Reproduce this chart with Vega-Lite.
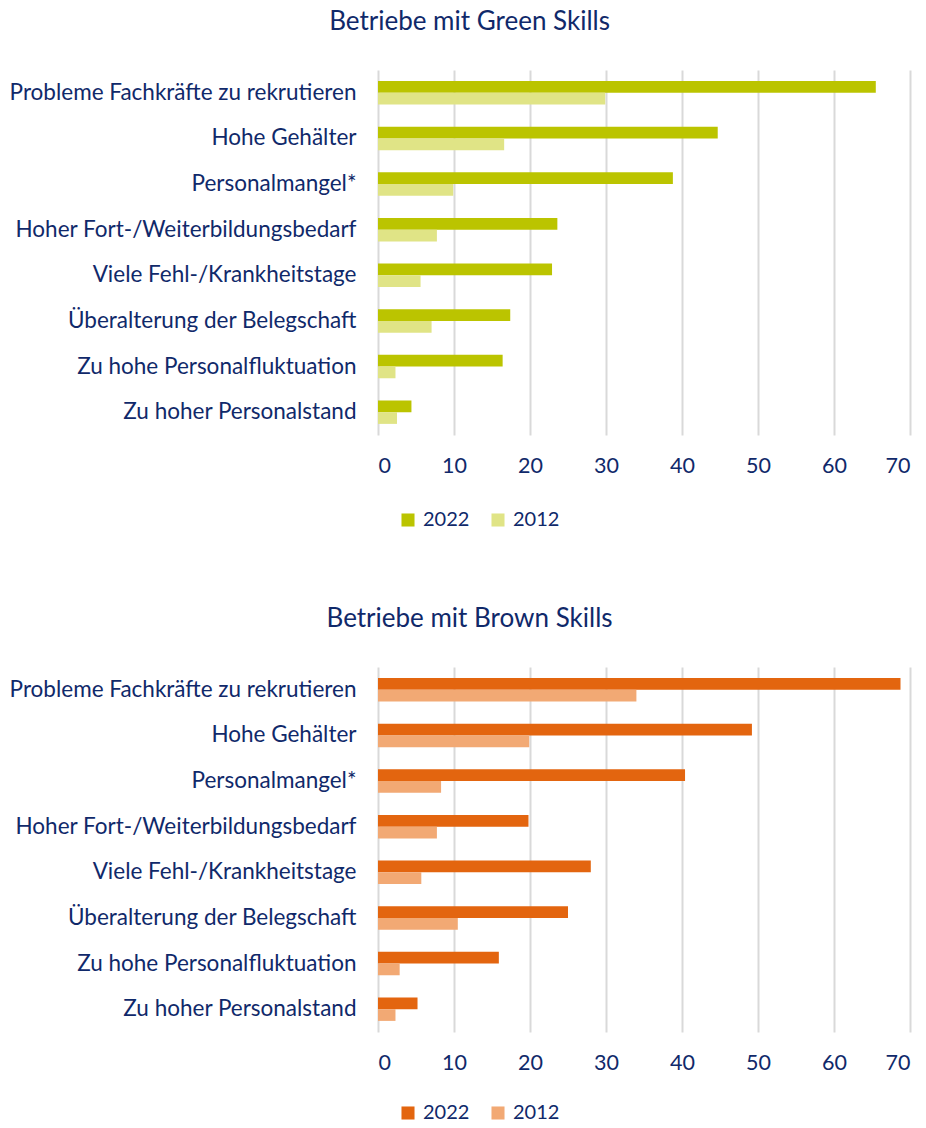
{
  "$schema": "https://vega.github.io/schema/vega-lite/v6.json",
  "background": "white",
  "padding": {"left": 9, "top": 9, "right": 10, "bottom": 0},
  "config": {
    "font": "Lato",
    "view": {"stroke": null},
    "axis": {"labelFont": "Lato", "labelFontSize": 21.5, "labelColor": "#10296a", "title": null},
    "legend": {"labelFont": "Lato", "labelFontSize": 20, "labelColor": "#10296a"},
    "title": {"font": "Lato", "fontSize": 26, "fontWeight": "normal", "color": "#10296a"}
  },
  "spacing": 76,
  "resolve": {"scale": {"color": "independent"}, "legend": {"color": "independent"}},
  "vconcat": [
    {
      "title": {"text": "Betriebe mit Green Skills", "anchor": "middle", "frame": "bounds", "offset": 35, "dx": 10},
      "width": 532,
      "height": 365,
      "data": {"values": [
        {"kategorie": "Probleme Fachkräfte zu rekrutieren", "jahr": "2022", "wert": 65.5},
        {"kategorie": "Probleme Fachkräfte zu rekrutieren", "jahr": "2012", "wert": 29.9},
        {"kategorie": "Hohe Gehälter", "jahr": "2022", "wert": 44.7},
        {"kategorie": "Hohe Gehälter", "jahr": "2012", "wert": 16.6},
        {"kategorie": "Personalmangel*", "jahr": "2022", "wert": 38.8},
        {"kategorie": "Personalmangel*", "jahr": "2012", "wert": 9.9},
        {"kategorie": "Hoher Fort-/Weiterbildungsbedarf", "jahr": "2022", "wert": 23.6},
        {"kategorie": "Hoher Fort-/Weiterbildungsbedarf", "jahr": "2012", "wert": 7.75},
        {"kategorie": "Viele Fehl-/Krankheitstage", "jahr": "2022", "wert": 22.9},
        {"kategorie": "Viele Fehl-/Krankheitstage", "jahr": "2012", "wert": 5.6},
        {"kategorie": "Überalterung der Belegschaft", "jahr": "2022", "wert": 17.4},
        {"kategorie": "Überalterung der Belegschaft", "jahr": "2012", "wert": 7.05},
        {"kategorie": "Zu hohe Personalfluktuation", "jahr": "2022", "wert": 16.4},
        {"kategorie": "Zu hohe Personalfluktuation", "jahr": "2012", "wert": 2.3},
        {"kategorie": "Zu hoher Personalstand", "jahr": "2022", "wert": 4.4},
        {"kategorie": "Zu hoher Personalstand", "jahr": "2012", "wert": 2.5}
      ]},
      "mark": {"type": "bar"},
      "encoding": {
        "y": {"field": "kategorie", "type": "nominal", "sort": null,
              "scale": {"paddingInner": 0.487, "paddingOuter": 0.2435},
              "axis": {"domain": false, "ticks": false, "labelPadding": 22, "labelLimit": 420, "labelFontSize": 22.5}},
        "yOffset": {"field": "jahr", "type": "nominal", "sort": ["2022", "2012"]},
        "x": {"field": "wert", "type": "quantitative",
              "scale": {"domain": [0, 70], "nice": false},
              "axis": {"values": [0, 10, 20, 30, 40, 50, 60, 70], "domain": false, "ticks": false, "grid": true, "gridColor": "#d9d9d9", "gridWidth": 2, "labelPadding": 20}},
        "color": {"field": "jahr", "type": "nominal",
                  "scale": {"domain": ["2022", "2012"], "range": ["#bbc400", "#e0e486"]},
                  "legend": {"title": null, "orient": "none", "legendX": 20, "legendY": 440, "direction": "horizontal", "symbolType": "square", "symbolSize": 170, "symbolStrokeWidth": 0, "labelOffset": 5, "columnPadding": 18}}
      }
    },
    {
      "title": {"text": "Betriebe mit Brown Skills", "anchor": "middle", "frame": "bounds", "offset": 35, "dx": 10},
      "width": 532,
      "height": 365,
      "data": {"values": [
        {"kategorie": "Probleme Fachkräfte zu rekrutieren", "jahr": "2022", "wert": 68.75},
        {"kategorie": "Probleme Fachkräfte zu rekrutieren", "jahr": "2012", "wert": 34.0},
        {"kategorie": "Hohe Gehälter", "jahr": "2022", "wert": 49.2},
        {"kategorie": "Hohe Gehälter", "jahr": "2012", "wert": 19.9},
        {"kategorie": "Personalmangel*", "jahr": "2022", "wert": 40.4},
        {"kategorie": "Personalmangel*", "jahr": "2012", "wert": 8.3},
        {"kategorie": "Hoher Fort-/Weiterbildungsbedarf", "jahr": "2022", "wert": 19.8},
        {"kategorie": "Hoher Fort-/Weiterbildungsbedarf", "jahr": "2012", "wert": 7.75},
        {"kategorie": "Viele Fehl-/Krankheitstage", "jahr": "2022", "wert": 28.0},
        {"kategorie": "Viele Fehl-/Krankheitstage", "jahr": "2012", "wert": 5.7},
        {"kategorie": "Überalterung der Belegschaft", "jahr": "2022", "wert": 25.0},
        {"kategorie": "Überalterung der Belegschaft", "jahr": "2012", "wert": 10.5},
        {"kategorie": "Zu hohe Personalfluktuation", "jahr": "2022", "wert": 15.9},
        {"kategorie": "Zu hohe Personalfluktuation", "jahr": "2012", "wert": 2.85},
        {"kategorie": "Zu hoher Personalstand", "jahr": "2022", "wert": 5.2},
        {"kategorie": "Zu hoher Personalstand", "jahr": "2012", "wert": 2.3}
      ]},
      "mark": {"type": "bar"},
      "encoding": {
        "y": {"field": "kategorie", "type": "nominal", "sort": null,
              "scale": {"paddingInner": 0.487, "paddingOuter": 0.2435},
              "axis": {"domain": false, "ticks": false, "labelPadding": 22, "labelLimit": 420, "labelFontSize": 22.5}},
        "yOffset": {"field": "jahr", "type": "nominal", "sort": ["2022", "2012"]},
        "x": {"field": "wert", "type": "quantitative",
              "scale": {"domain": [0, 70], "nice": false},
              "axis": {"values": [0, 10, 20, 30, 40, 50, 60, 70], "domain": false, "ticks": false, "grid": true, "gridColor": "#d9d9d9", "gridWidth": 2, "labelPadding": 20}},
        "color": {"field": "jahr", "type": "nominal",
                  "scale": {"domain": ["2022", "2012"], "range": ["#e3650f", "#f2a974"]},
                  "legend": {"title": null, "orient": "none", "legendX": 20, "legendY": 436, "direction": "horizontal", "symbolType": "square", "symbolSize": 170, "symbolStrokeWidth": 0, "labelOffset": 5, "columnPadding": 18}}
      }
    }
  ]
}
